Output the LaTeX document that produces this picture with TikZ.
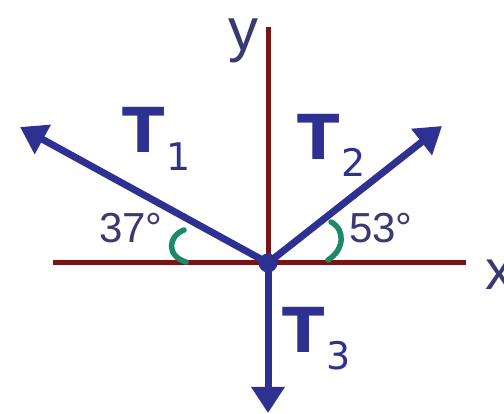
\documentclass[tikz,border=0pt]{standalone}
\usepackage{fontspec}
\setmainfont{Liberation Sans}
\newfontfamily\dvsans{DejaVu Sans}
\usetikzlibrary{arrows.meta}
\definecolor{fblue}{HTML}{2E3192}
\definecolor{axred}{HTML}{7A1414}
\definecolor{arcgreen}{HTML}{1C8A68}
\definecolor{txt}{HTML}{3A3A70}
\tikzset{
  axis/.style={draw=axred, line width=5pt},
  force/.style={draw=fblue, line width=7pt, -{Triangle[length=26pt,width=32pt]}},
  anglearc/.style={draw=arcgreen, line width=5.5pt, line cap=round},
  flabel/.style={fblue, inner sep=0pt, anchor=base west},
  alabel/.style={txt, inner sep=0pt, anchor=base west},
}
\newcommand{\tlab}[2]{{\dvsans\fontsize{62}{62}\selectfont\bfseries T}\hspace{2pt}\raisebox{#2}{\dvsans\fontsize{38}{38}\selectfont #1}}
\begin{document}
\begin{tikzpicture}[x=1pt,y=-1pt]
\useasboundingbox (0,0) rectangle (504,414);
\coordinate (O) at (268,263);
\coordinate (xl) at (53,263);
\coordinate (xr) at (466,263);
\coordinate (yt) at (268,27);
\coordinate (t1) at (20,127);
\coordinate (t2) at (442,126);
\coordinate (t3) at (268,413);
\draw[axis] (xl) -- (xr);
\draw[axis] (O) -- (yt);
\draw[force] (O) -- (t1);
\draw[force] (O) -- (t2);
\draw[force] (O) -- (t3);
\fill[fblue] (O) circle (9.5pt);
\coordinate (a1s) at (184,230);
\coordinate (a1e) at (186,262);
\coordinate (a2s) at (331,222);
\coordinate (a2e) at (328,260);
\draw[anglearc] (a1s) .. controls (168,236) and (166,256) .. (a1e);
\draw[anglearc] (a2s) .. controls (346,230) and (344,250) .. (a2e);
\node[flabel] (T1) at (122,153) {\tlab{1}{-18pt}};
\node[flabel] (T2) at (297,160) {\tlab{2}{-17pt}};
\node[flabel] (T3) at (282,353) {\tlab{3}{-17pt}};
\node[alabel] (ylab) at (228,51) {\fontsize{60}{60}\selectfont y};
\node[alabel] (xlab) at (485,290) {\fontsize{56}{56}\selectfont x};
\node[alabel] (a37) at (99,243) {\fontsize{42}{42}\selectfont 37\textdegree};
\node[alabel] (a53) at (349,243) {\fontsize{42}{42}\selectfont 53\textdegree};
\end{tikzpicture}
\end{document}
